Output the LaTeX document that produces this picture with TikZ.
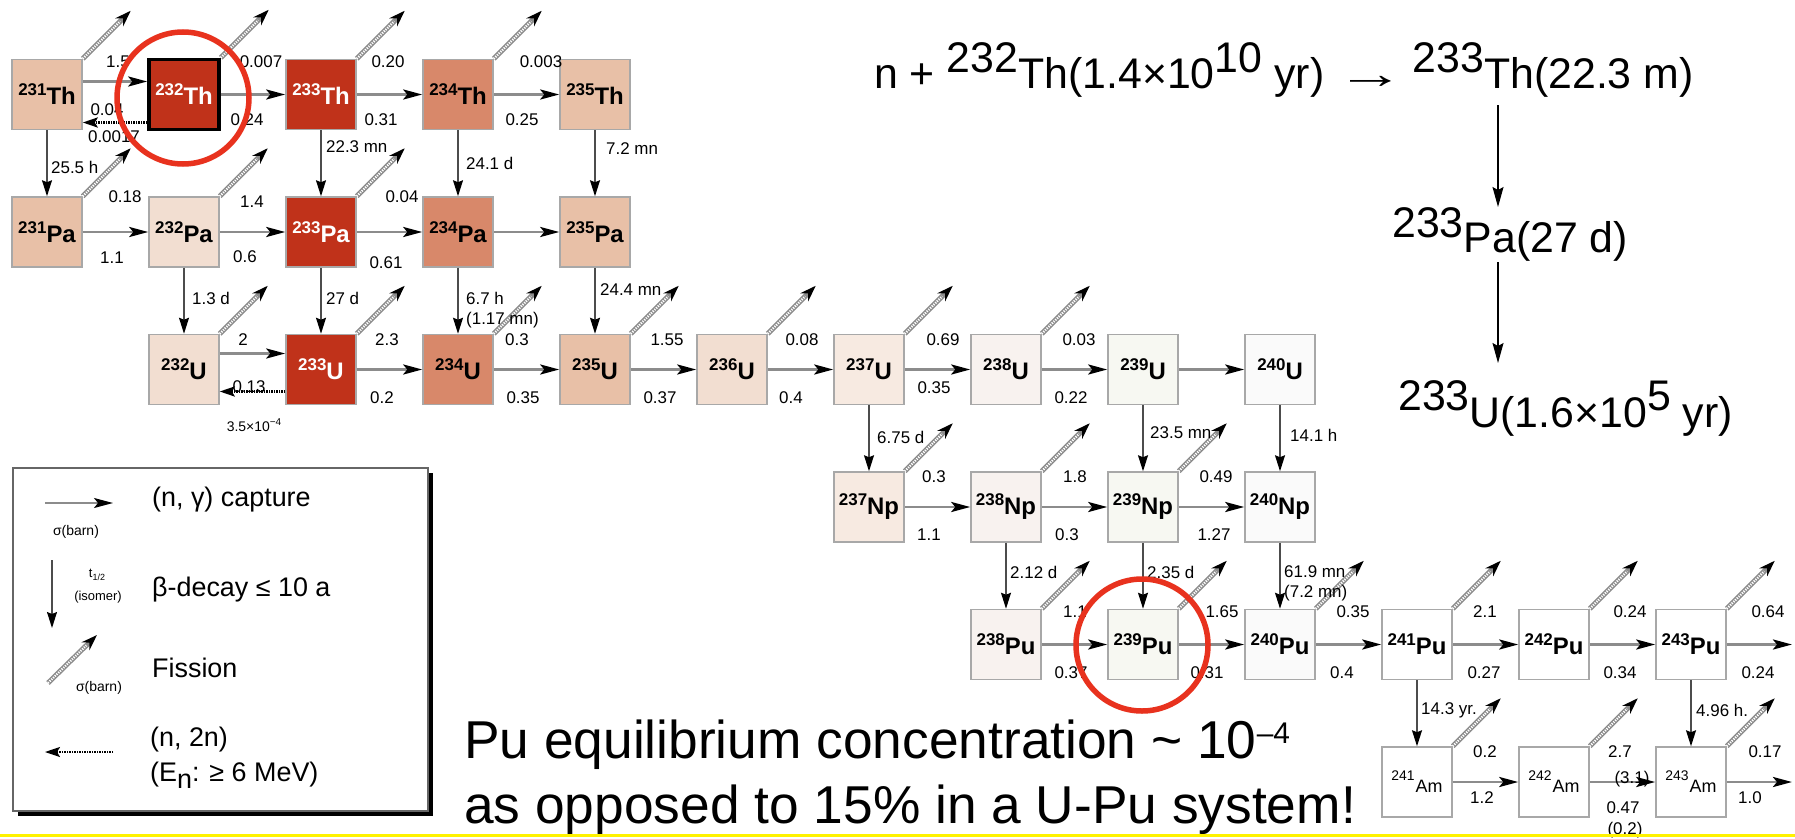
\documentclass[tikz,border=0pt]{standalone}
\usepackage{fontspec}
\setmainfont{Liberation Sans}
\usetikzlibrary{arrows.meta,calc}
\definecolor{thdark}{HTML}{C0321A}
\definecolor{thmed}{HTML}{D8886A}
\definecolor{thlight}{HTML}{E8C0A7}
\definecolor{vlight}{HTML}{F2DED1}
\definecolor{cc237}{HTML}{F7EAE1}
\definecolor{cc238}{HTML}{F8F2EF}
\definecolor{cc239}{HTML}{F7F8F2}
\definecolor{cc240}{HTML}{FAFAFA}
\definecolor{boxgray}{HTML}{A8A8A8}
\definecolor{capgray}{HTML}{8C8C8C}
\definecolor{fisgray}{HTML}{8C8C8C}
\definecolor{circred}{HTML}{E8321E}
\definecolor{yel}{HTML}{FFF200}
\newcommand{\iso}[2]{\raisebox{9bp}{\fontsize{17}{17}\selectfont #1}\fontsize{24}{24}\selectfont #2}
\newcommand{\isoam}[2]{{\fontsize{14}{14}\selectfont\raisebox{12bp}{#1}}\hspace{1bp}\fontsize{18}{18}\selectfont #2}
\newcommand{\fis}[1]{%
  \coordinate (#1-f) at ($(#1.north east)+(48,-48)$);
  \draw[fisbody] (#1.north east) -- (#1-f);
  \draw[fisinner] (#1.north east) -- ($(#1-f)!15bp!(#1.north east)$);
}
\tikzset{
  nuc/.style={draw=boxgray, line width=1.5bp, minimum width=70bp, minimum height=70bp, inner sep=0pt, font=\bfseries},
  amnuc/.style={draw=boxgray, line width=1.5bp, minimum width=70bp, minimum height=70bp, inner sep=0pt, fill=white},
  capture/.style={draw=capgray, line width=2.8bp, -{Stealth[length=19bp,width=10bp,inset=4bp,color=black]}},
  decay/.style={draw=black!70, line width=1.3bp, -{Stealth[length=16bp,width=10bp,inset=2bp,color=black]}},
  ntwon/.style={draw=black, line width=2.6bp, dash pattern=on 1.4bp off 1.1bp, -{Stealth[length=15bp,width=10bp,inset=3bp]}},
  fisbody/.style={draw=fisgray, line width=5bp, -{Stealth[length=16bp,width=11bp,color=black]}},
  fisinner/.style={draw=white, line width=2.2bp, dash pattern=on 1.2bp off 1.2bp},
  bigarrow/.style={draw=black, line width=1.2bp, -{Stealth[length=20bp,width=11bp,inset=3bp]}},
  lab/.style={font=\fontsize{17}{17}\selectfont, inner sep=0pt},
  dlab/.style={lab, anchor=west},
  leg/.style={font=\fontsize{27}{30}\selectfont, inner sep=0pt, anchor=west},
  legsmall/.style={font=\fontsize{14}{14}\selectfont, inner sep=0pt},
  ring/.style={draw=circred, line width=5.5bp},
}
\begin{document}
\begin{tikzpicture}[x=1bp,y=-1bp]
\useasboundingbox (0,0) rectangle (1795,839);
\fill[white] (0,0) rectangle (1795,839);

% ---------- legend ----------
\fill[black] (18,473) rectangle (433,816);
\node[draw=black!60, line width=1.8bp, fill=white, minimum width=415bp, minimum height=343bp, anchor=north west, inner sep=0pt] (legend) at (12,467) {};
\coordinate (lg1a) at (45,503); \coordinate (lg1b) at (113,503);
\draw[capture, line width=1.6bp] (lg1a) -- (lg1b);
\node[legsmall] (lgs1) at (76,532) {σ(barn)};
\node[leg] (lgt1) at (152,500) {(n, γ) capture};
\coordinate (lg2a) at (52,560); \coordinate (lg2b) at (52,628);
\draw[decay] (lg2a) -- (lg2b);
\node[legsmall, font=\fontsize{13}{13}\selectfont] (lgs2) at (97,575) {t\raisebox{-3bp}{\fontsize{9}{9}\selectfont 1/2}};
\node[legsmall, font=\fontsize{13}{13}\selectfont] (lgs3) at (98,597) {(isomer)};
\node[leg] (lgt2) at (152,590) {β-decay ≤ 10 a};
\coordinate (lg3a) at (48,683); \coordinate (lg3b) at (97,635);
\draw[fisbody] (lg3a) -- (lg3b);
\draw[fisinner] (lg3a) -- ($(lg3b)!15bp!(lg3a)$);
\node[legsmall] (lgs4) at (99,688) {σ(barn)};
\node[leg] (lgt3) at (152,668) {Fission};
\coordinate (lg4a) at (113,752); \coordinate (lg4b) at (45,752);
\draw[ntwon, line width=2bp] (lg4a) -- (lg4b);
\node[leg] (lgt4) at (150,740) {(n, 2n)};
\node[leg] (lgt5) at (150,775) {(E\raisebox{-7bp}{n}: ≥ 6 MeV)};

% ---------- nuclide boxes ----------
\node[nuc, fill=thlight] (Th231) at (47,94.5) {\iso{231}{Th}};
\node[nuc, fill=thdark, text=white, draw=black, line width=3.5bp] (Th232) at (184,94.5) {\iso{232}{Th}};
\node[nuc, fill=thdark, text=white] (Th233) at (321,94.5) {\iso{233}{Th}};
\node[nuc, fill=thmed] (Th234) at (458,94.5) {\iso{234}{Th}};
\node[nuc, fill=thlight] (Th235) at (595,94.5) {\iso{235}{Th}};

\node[nuc, fill=thlight] (Pa231) at (47,232) {\iso{231}{Pa}};
\node[nuc, fill=vlight] (Pa232) at (184,232) {\iso{232}{Pa}};
\node[nuc, fill=thdark, text=white] (Pa233) at (321,232) {\iso{233}{Pa}};
\node[nuc, fill=thmed] (Pa234) at (458,232) {\iso{234}{Pa}};
\node[nuc, fill=thlight] (Pa235) at (595,232) {\iso{235}{Pa}};

\node[nuc, fill=vlight] (U232) at (184,369.5) {\iso{232}{U}};
\node[nuc, fill=thdark, text=white] (U233) at (321,369.5) {\iso{233}{U}};
\node[nuc, fill=thmed] (U234) at (458,369.5) {\iso{234}{U}};
\node[nuc, fill=thlight] (U235) at (595,369.5) {\iso{235}{U}};
\node[nuc, fill=vlight] (U236) at (732,369.5) {\iso{236}{U}};
\node[nuc, fill=cc237] (U237) at (869,369.5) {\iso{237}{U}};
\node[nuc, fill=cc238] (U238) at (1006,369.5) {\iso{238}{U}};
\node[nuc, fill=cc239] (U239) at (1143,369.5) {\iso{239}{U}};
\node[nuc, fill=cc240] (U240) at (1280,369.5) {\iso{240}{U}};

\node[nuc, fill=cc237] (Np237) at (869,507) {\iso{237}{Np}};
\node[nuc, fill=cc238] (Np238) at (1006,507) {\iso{238}{Np}};
\node[nuc, fill=cc239] (Np239) at (1143,507) {\iso{239}{Np}};
\node[nuc, fill=cc240] (Np240) at (1280,507) {\iso{240}{Np}};

\node[nuc, fill=cc238] (Pu238) at (1006,644.5) {\iso{238}{Pu}};
\node[nuc, fill=cc239] (Pu239) at (1143,644.5) {\iso{239}{Pu}};
\node[nuc, fill=cc240] (Pu240) at (1280,644.5) {\iso{240}{Pu}};
\node[nuc, fill=white] (Pu241) at (1417,644.5) {\iso{241}{Pu}};
\node[nuc, fill=white] (Pu242) at (1554,644.5) {\iso{242}{Pu}};
\node[nuc, fill=white] (Pu243) at (1691,644.5) {\iso{243}{Pu}};

\node[amnuc] (Am241) at (1417,782) {\isoam{241}{Am}};
\node[amnuc] (Am242) at (1554,782) {\isoam{242}{Am}};
\node[amnuc] (Am243) at (1691,782) {\isoam{243}{Am}};

\coordinate (Pu243-out) at (1792,644.5);
\coordinate (Am243-out) at (1792,782);

% ---------- capture arrows ----------
\draw[capture] ([yshift=13bp]Th231.east) -- ([yshift=13bp]Th232.west);
\draw[ntwon] ([yshift=-28bp]Th232.west) -- ([yshift=-28bp]Th231.east);
\draw[capture] (Th232) -- (Th233);
\draw[capture] (Th233) -- (Th234);
\draw[capture] (Th234) -- (Th235);
\draw[capture] (Pa231) -- (Pa232);
\draw[capture] (Pa232) -- (Pa233);
\draw[capture] (Pa233) -- (Pa234);
\draw[capture] (Pa234) -- (Pa235);
\draw[capture] ([yshift=16bp]U232.east) -- ([yshift=16bp]U233.west);
\draw[ntwon] ([yshift=-22bp]U233.west) -- ([yshift=-22bp]U232.east);
\draw[capture] (U233) -- (U234);
\draw[capture] (U234) -- (U235);
\draw[capture] (U235) -- (U236);
\draw[capture] (U236) -- (U237);
\draw[capture] (U237) -- (U238);
\draw[capture] (U238) -- (U239);
\draw[capture] (U239) -- (U240);
\draw[capture] (Np237) -- (Np238);
\draw[capture] (Np238) -- (Np239);
\draw[capture] (Np239) -- (Np240);
\draw[capture] (Pu238) -- (Pu239);
\draw[capture] (Pu239) -- (Pu240);
\draw[capture] (Pu240) -- (Pu241);
\draw[capture] (Pu241) -- (Pu242);
\draw[capture] (Pu242) -- (Pu243);
\draw[capture] (Pu243) -- (Pu243-out);
\draw[capture] (Am241) -- (Am242);
\draw[capture] (Am242) -- (Am243);
\draw[capture] (Am243) -- (Am243-out);

% ---------- decay arrows ----------
\draw[decay] (Th231) -- (Pa231);
\draw[decay] (Th233) -- (Pa233);
\draw[decay] (Th234) -- (Pa234);
\draw[decay] (Th235) -- (Pa235);
\draw[decay] (Pa232) -- (U232);
\draw[decay] (Pa233) -- (U233);
\draw[decay] (Pa234) -- (U234);
\draw[decay] (Pa235) -- (U235);
\draw[decay] (U237) -- (Np237);
\draw[decay] (U239) -- (Np239);
\draw[decay] (U240) -- (Np240);
\draw[decay] (Np238) -- (Pu238);
\draw[decay] (Np239) -- (Pu239);
\draw[decay] (Np240) -- (Pu240);
\draw[decay] (Pu241) -- (Am241);
\draw[decay] (Pu243) -- (Am243);

% ---------- fission arrows ----------
\fis{Th231}\fis{Th232}\fis{Th233}\fis{Th234}
\fis{Pa231}\fis{Pa232}\fis{Pa233}
\fis{U232}\fis{U233}\fis{U234}\fis{U235}\fis{U236}\fis{U237}\fis{U238}
\fis{Np237}\fis{Np238}\fis{Np239}
\fis{Pu238}\fis{Pu239}\fis{Pu240}\fis{Pu241}\fis{Pu242}\fis{Pu243}
\fis{Am241}\fis{Am242}\fis{Am243}

% ---------- labels ----------
% Th row
\node[lab] at (118,62) {1.5};
\node[lab] at (107,110) {0.04};
\node[lab] at (114,137) {0.0017};
\node[lab] at (261,62) {0.007};
\node[lab] at (247,120) {0.24};
\node[lab] at (388,62) {0.20};
\node[lab] at (381,120) {0.31};
\node[lab] at (541,62) {0.003};
\node[lab] at (522,120) {0.25};
\node[dlab] at (51,167) {25.5 h};
\node[dlab] at (326,147) {22.3 mn};
\node[dlab] at (466,163) {24.1 d};
\node[dlab] at (606,149) {7.2 mn};
% Pa row
\node[lab] at (125,197) {0.18};
\node[lab] at (112,258) {1.1};
\node[lab] at (252,202) {1.4};
\node[lab] at (245,257) {0.6};
\node[lab] at (402,197) {0.04};
\node[lab] at (386,263) {0.61};
\node[dlab] at (192,298) {1.3 d};
\node[dlab] at (326,298) {27 d};
\node[dlab] at (466,298) {6.7 h};
\node[dlab] at (466,320) {(1.17 mn)};
\node[dlab] at (600,290) {24.4 mn};
% U row
\node[lab] at (243,340) {2};
\node[lab] at (249,387) {0.13};
\node[lab] at (254,425) {\fontsize{14}{14}\selectfont 3.5×10\raisebox{6bp}{\fontsize{10}{10}\selectfont −4}};
\node[lab] at (387,340) {2.3};
\node[lab] at (382,398) {0.2};
\node[lab] at (517,340) {0.3};
\node[lab] at (523,398) {0.35};
\node[lab] at (667,340) {1.55};
\node[lab] at (660,398) {0.37};
\node[lab] at (802,340) {0.08};
\node[lab] at (791,398) {0.4};
\node[lab] at (943,340) {0.69};
\node[lab] at (934,388) {0.35};
\node[lab] at (1079,340) {0.03};
\node[lab] at (1071,398) {0.22};
\node[dlab] at (877,437) {6.75 d};
\node[dlab] at (1150,433) {23.5 mn};
\node[dlab] at (1290,435) {14.1 h};
% Np row
\node[lab] at (934,477) {0.3};
\node[lab] at (929,535) {1.1};
\node[lab] at (1075,477) {1.8};
\node[lab] at (1067,535) {0.3};
\node[lab] at (1216,477) {0.49};
\node[lab] at (1214,535) {1.27};
\node[dlab] at (1010,572) {2.12 d};
\node[dlab] at (1147,572) {2.35 d};
\node[dlab] at (1284,572) {61.9 mn};
\node[dlab] at (1284,593) {(7.2 mn)};
% Pu row
\node[lab] at (1075,612) {1.1};
\node[lab] at (1071,673) {0.37};
\node[lab] at (1222,612) {1.65};
\node[lab] at (1207,673) {0.31};
\node[lab] at (1353,612) {0.35};
\node[lab] at (1342,673) {0.4};
\node[lab] at (1485,612) {2.1};
\node[lab] at (1484,673) {0.27};
\node[lab] at (1630,612) {0.24};
\node[lab] at (1620,673) {0.34};
\node[lab] at (1768,612) {0.64};
\node[lab] at (1758,673) {0.24};
\node[dlab] at (1421,710) {14.3 yr.};
\node[dlab] at (1696,710) {4.96 h.};
% Am row
\node[lab] at (1485,752) {0.2};
\node[lab] at (1482,798) {1.2};
\node[lab] at (1620,752) {2.7};
\node[lab] at (1632,779) {(3.1)};
\node[lab] at (1623,808) {0.47};
\node[lab] at (1625,830) {(0.2)};
\node[lab] at (1765,752) {0.17};
\node[lab] at (1750,798) {1.0};

% ---------- reaction chain (top right) ----------
\node[anchor=base west, inner sep=0pt, font=\fontsize{43}{43}\selectfont] (f1) at (874,88) {n + \raisebox{16bp}{232}Th(1.4×10\raisebox{16bp}{10} yr) \scalebox{1.6}[1]{→}\hspace{-4bp} \raisebox{16bp}{233}Th(22.3 m)};
\node[anchor=base west, inner sep=0pt, font=\fontsize{43}{43}\selectfont] (f2) at (1392,252) {\raisebox{15bp}{233}Pa(27 d)};
\node[anchor=base west, inner sep=0pt, font=\fontsize{43}{43}\selectfont] (f3) at (1398,427) {\raisebox{17bp}{233}U(1.6×10\raisebox{17bp}{5} yr)};
\coordinate (ar1a) at (1498,105); \coordinate (ar1b) at (1498,207);
\coordinate (ar2a) at (1498,262); \coordinate (ar2b) at (1498,363);
\draw[bigarrow] (ar1a) -- (ar1b);
\draw[bigarrow] (ar2a) -- (ar2b);

% ---------- bottom statement ----------
\node[anchor=base west, inner sep=0pt, font=\fontsize{53.5}{53.5}\selectfont] (s1) at (464,758) {Pu equilibrium concentration \char"007E{} 10\raisebox{15bp}{\fontsize{30}{30}\selectfont –4}};
\node[anchor=base west, inner sep=0pt, font=\fontsize{53.5}{53.5}\selectfont] (s2) at (464,823) {as opposed to 15\% in a U-Pu system!};

% ---------- red circles ----------
\draw[ring] (183,98) circle (66);
\draw[ring] (1142,645) circle (66);

% ---------- yellow line ----------
\draw[yel, line width=3bp] (0,835) -- (1795,835);
\end{tikzpicture}
\end{document}
